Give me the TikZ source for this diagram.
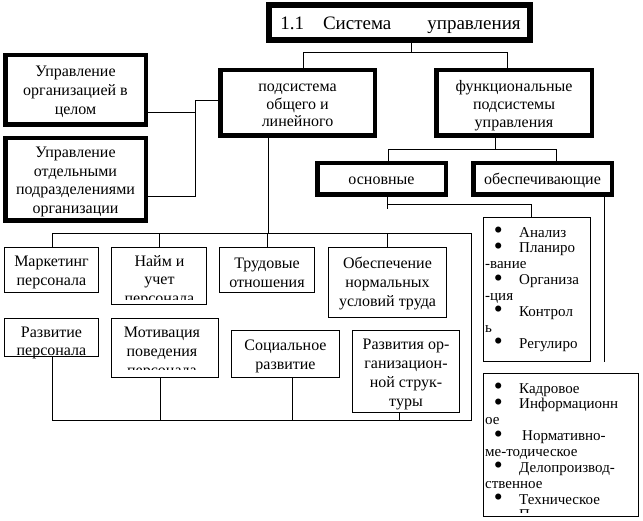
\documentclass[tikz,border=0pt]{standalone}
\usepackage{fontspec}
\setmainfont{Liberation Serif}
\newcommand\bxf{\fontsize{16}{19}\selectfont}
\newcommand\ttlf{\fontsize{19}{23}\selectfont}
\newcommand\blf{\fontsize{15}{15.85}\selectfont}
\newcommand\mybul{\raisebox{-1.6pt}{\scalebox{1.7}{•}}}
\newcommand\myitem[1]{\makebox[34pt][l]{\hspace{8.6pt}\mybul}#1}
\begin{document}
\begin{tikzpicture}[x=1pt,y=-1pt,
 tb/.style={draw, line width=4.5pt, inner sep=0pt},
 nb/.style={draw, line width=1pt, inner sep=0pt},
 conn/.style={line width=1pt},
 txt/.style={inner sep=0pt, align=center, font=\bxf}]
\useasboundingbox[fill=white] (0,0) rectangle (643,521);

% thick boxes
\node[tb, line width=6pt, minimum width=261pt, minimum height=35pt] (title) at (399.5,22.5) {};
\node[txt, font=\ttlf, anchor=base] (ttext) at (400.5,30) {1.1\hspace{19pt}Система\hspace{36pt}управления};
\node[tb, minimum width=140.5pt, minimum height=69.5pt] (org) at (75.5,90) {};
\node[txt] (orgt) at ([yshift=-2pt]org.center) {Управление\\организацией в\\целом};
\node[tb, minimum width=140.5pt, minimum height=82.5pt] (dep) at (75.5,179.5) {};
\node[txt, font={\fontsize{16}{18.4}\selectfont}] (dept) at ([yshift=-2.5pt]dep.center) {Управление\\отдельными\\подразделениями\\организации};
\node[tb, minimum width=154.5pt, minimum height=65.5pt] (sub) at (297.5,103) {};
\node[txt, font={\fontsize{16}{17.5}\selectfont}] (subt) at ([yshift=-2.5pt]sub.center) {подсистема\\общего и\\линейного};
\node[tb, minimum width=155.5pt, minimum height=65.5pt] (fun) at (514,103) {};
\node[txt, font={\fontsize{16}{18}\selectfont}] (funt) at ([yshift=-2.5pt]fun.center) {функциональные\\подсистемы\\управления};
\node[tb, minimum width=128.5pt, minimum height=31.5pt] (osn) at (381.5,179) {};
\node[txt] (osnt) at ([yshift=-1.5pt]osn.center) {основные};
\node[tb, minimum width=138.5pt, minimum height=31.5pt] (obs) at (542.5,179) {};
\node[txt] (obst) at ([yshift=-1.5pt]obs.center) {обеспечивающие};

% thin boxes
\node[nb, minimum width=94pt, minimum height=45pt] (mark) at (51.5,270) {};
\node[txt] (markt) at ([yshift=-2.5pt]mark.center) {Маркетинг\\персонала};
\node[nb, minimum width=95pt, minimum height=57pt] (naim) at (159,276) {};
\node[nb, minimum width=95pt, minimum height=45pt] (trud) at (267,270) {};
\node[txt] (trudt) at ([yshift=-2.5pt]trud.center) {Трудовые\\отношения};
\node[nb, minimum width=118pt, minimum height=70pt] (obesp) at (387.5,282.5) {};
\node[txt] (obespt) at ([yshift=-1.5pt]obesp.center) {Обеспечение\\нормальных\\условий труда};
\node[nb, minimum width=94pt, minimum height=38pt] (razv) at (51.5,337.5) {};
\node[txt, font={\fontsize{16}{18}\selectfont}] (razvt) at ([yshift=-5pt]razv.center) {Развитие\\персонала};
\node[nb, minimum width=107pt, minimum height=59pt] (motiv) at (165,348) {};
\node[nb, minimum width=108pt, minimum height=47pt] (soc) at (285.5,354) {};
\node[txt] (soct) at ([yshift=-2.5pt]soc.center) {Социальное\\развитие};
\node[nb, minimum width=107pt, minimum height=82pt] (rorg) at (406,371.5) {};
\node[txt, font={\fontsize{16}{18.8}\selectfont}] (rorgt) at ([yshift=-3pt]rorg.center) {Развития ор-\\ганизацион-\\ной струк-\\туры};
\node[nb, minimum width=107pt, minimum height=144pt] (an) at (537,289.5) {};
\node[nb, minimum width=155pt, minimum height=143pt] (kad) at (561,445) {};

% clipped texts
\begin{scope}
\clip (111.5,247.5) rectangle (206.5,299.5);
\node[txt, anchor=north, font={\fontsize{16}{18.5}\selectfont}] (naimt) at (159.5,255) {Найм и\\учет\\персонала};
\end{scope}
\begin{scope}
\clip (111.5,318.5) rectangle (218.5,370);
\node[txt, anchor=north, font={\fontsize{16}{19}\selectfont}] (motivt) at (162,326.5) {Мотивация\\поведения\\персонала};
\end{scope}
\node[inner sep=0pt, anchor=north west, align=left, font=\blf] (ant) at (485,227) {\myitem{Анализ}\\\myitem{Планиро}\\-вание\\\myitem{Организа}\\-ция\\\myitem{Контрол}\\ь\\\myitem{Регулиро}};
\begin{scope}
\clip (484,374) rectangle (638,512.5);
\node[inner sep=0pt, anchor=north west, align=left, font=\blf] (kadt) at (485,383) {\myitem{Кадровое}\\\myitem{Информационн}\\ое\\\myitem{\hspace{3pt}Нормативно-}\\ме-тодическое\\\myitem{Делопроизвод-}\\ственное\\\myitem{Техническое}\\\makebox[34pt]{}П};
\end{scope}

% connectors
\coordinate (t1) at (411,53); \coordinate (t2) at (303,53); \coordinate (t3) at (507,53);
\draw[conn] (title.south -| t1) -- (t1);
\draw[conn] (sub.north -| t2) |- (t3) -- (fun.north -| t3);

\coordinate (l1) at (195,113); \coordinate (l2) at (195,197); \coordinate (l3) at (195,101);
\draw[conn] (org.east |- l1) -- (l1);
\draw[conn] (dep.east |- l2) -- (l2) -- (l3) -- (sub.west |- l3);

\coordinate (m0) at (268,234);
\draw[conn] (sub.south -| m0) -- (m0);
\coordinate (b2) at (471,234); \coordinate (b3) at (471,421); \coordinate (b4) at (52,421);
\draw[conn] (mark.north -| b4) |- (b2) -- (b3) -- (b4) -- (razv.south -| b4);
\draw[conn] (naim.north) -- (naim.north |- b2);
\draw[conn] (trud.north) -- (trud.north |- b2);
\draw[conn] (obesp.north) -- (obesp.north |- b2);
\coordinate (c1) at (160,421); \coordinate (c2) at (292,421); \coordinate (c3) at (399,421);
\draw[conn] (motiv.south -| c1) -- (c1);
\draw[conn] (soc.south -| c2) -- (c2);
\draw[conn] (rorg.south -| c3) -- (c3);

\coordinate (f1) at (495,150); \coordinate (f2) at (388,150); \coordinate (f3) at (556,150);
\draw[conn] (fun.south -| f1) -- (f1);
\draw[conn] (osn.north -| f2) |- (f3) -- (obs.north -| f3);

\coordinate (o1) at (387,209); \coordinate (o2) at (387,205); \coordinate (o3) at (531,205);
\draw[conn] (osn.south -| o1) -- (o1);
\draw[conn] (o2) -- (o3) -- (an.north -| o3);
\coordinate (e1) at (604,362);
\draw[conn] (obs.south -| e1) -- (e1);
\end{tikzpicture}
\end{document}
